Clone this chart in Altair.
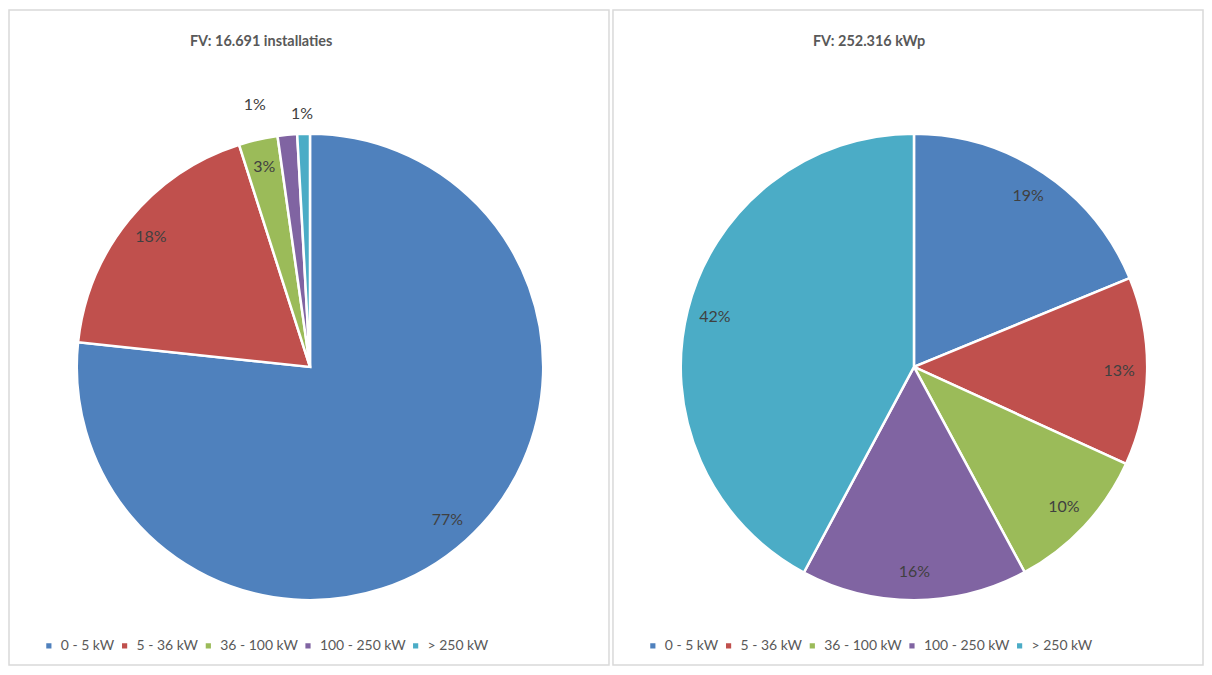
import altair as alt
import pandas as pd

categories = ["0 - 5 kW", "5 - 36 kW", "36 - 100 kW", "100 - 250 kW", "> 250 kW"]
installaties = [12800, 3070, 450, 225, 146]
vermogen_kwp = [47400, 32900, 26000, 39600, 106416]
colors = ["#4F81BD", "#C0504D", "#9BBB59", "#8064A2", "#4BACC6"]
titles = ["FV: 16.691 installaties", "FV: 252.316 kWp"]

FONT = "Lato"
CX, CY, R = 302, 358, 234


def panel(values, title, width, title_x, show_small):
    df = pd.DataFrame({"cat": categories, "v": values, "idx": list(range(len(categories)))})
    base = alt.Chart(df).transform_joinaggregate(total="sum(v)").transform_calculate(
        pct="datum.v / datum.total"
    )
    theta = alt.Theta("v:Q", stack=True)
    order = alt.Order("idx:Q", sort="ascending")
    color = alt.Color(
        "cat:N",
        scale=alt.Scale(domain=categories, range=colors),
        sort=categories,
        legend=alt.Legend(
            title=None,
            orient="none",
            direction="horizontal",
            legendX=33,
            legendY=631,
            symbolType="square",
            symbolSize=45,
            labelFontSize=14,
            labelFont=FONT,
            labelColor="#595959",
            columnPadding=3,
            labelOffset=5,
        ),
    )
    arcs = base.mark_arc(radius=R, stroke="white", strokeWidth=2.5).encode(
        theta=theta, color=color, order=order,
        x=alt.value(CX), y=alt.value(CY),
    )
    main_lbl = base.transform_calculate(
        lbl="datum.pct >= 0.02 ? format(datum.pct, '.0%') : ''"
    ).mark_text(radius=206, fontSize=16, font=FONT, color="#404040").encode(
        theta=theta, order=order, text="lbl:N", x=alt.value(CX), y=alt.value(CY)
    )
    layers = [arcs, main_lbl]
    if show_small:
        purple_lbl = base.transform_calculate(
            lbl="datum.cat == '100 - 250 kW' ? format(datum.pct, '.0%') : ''"
        ).mark_text(radius=252, dx=-31, dy=-12, fontSize=16, font=FONT, color="#404040").encode(
            theta=theta, order=order, text="lbl:N", x=alt.value(CX), y=alt.value(CY)
        )
        cyan_lbl = base.transform_calculate(
            lbl="datum.cat == '> 250 kW' ? format(datum.pct, '.0%') : ''"
        ).mark_text(radius=252, dx=-1, dy=-2, fontSize=16, font=FONT, color="#404040").encode(
            theta=theta, order=order, text="lbl:N", x=alt.value(CX), y=alt.value(CY)
        )
        layers += [purple_lbl, cyan_lbl]
    title_layer = alt.Chart(pd.DataFrame({"t": [title]})).mark_text(
        fontSize=14.5, fontWeight="bold", font=FONT, color="#595959"
    ).encode(text="t:N", x=alt.value(title_x), y=alt.value(32))
    layers.append(title_layer)
    return alt.layer(*layers).properties(width=width, height=657)


left = panel(installaties, titles[0], 602, 253, True)
right = panel(vermogen_kwp, titles[1], 592, 257, False)

chart = alt.hconcat(left, right, spacing=2).resolve_scale(color="independent").configure_view(
    stroke="#D9D9D9", strokeWidth=1.5
).properties(padding=0, background="white")

chart.save("out.html", embed_options={"renderer": "svg", "actions": False})
